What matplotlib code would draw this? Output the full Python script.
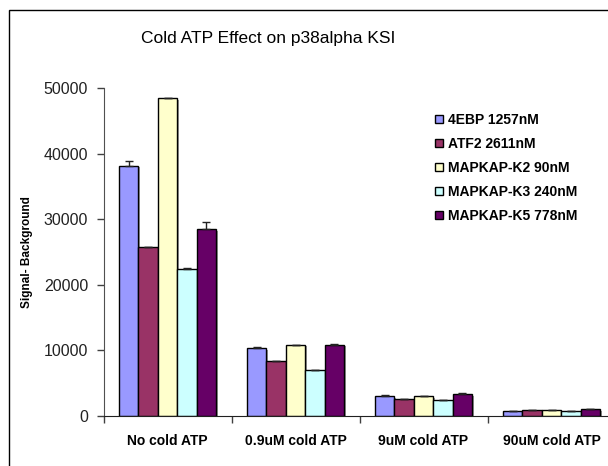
import numpy as np
import matplotlib
matplotlib.use("Agg")
from matplotlib import pyplot as plt
from matplotlib import patheffects as pe
from matplotlib.patches import Rectangle

conditions = ["No cold ATP", "0.9uM cold ATP", "9uM cold ATP", "90uM cold ATP"]
substrates = ["4EBP 1257nM", "ATF2 2611nM", "MAPKAP-K2 90nM", "MAPKAP-K3 240nM", "MAPKAP-K5 778nM"]
colors = ["#9999FF", "#993366", "#FFFFCC", "#CCFFFF", "#660066"]

signal = [[38100, 10320, 3000, 700],
          [25800, 8380, 2650, 840],
          [48450, 10870, 3000, 840],
          [22400, 6960, 2400, 700],
          [28450, 10820, 3300, 1000]]
err = [[700, 150, 250, 100],
       [0, 0, 0, 0],
       [0, 0, 0, 0],
       [100, 120, 100, 0],
       [1080, 200, 150, 0]]

plt.rcParams['font.family'] = ['Liberation Sans', 'DejaVu Sans']

fig = plt.figure(figsize=(6.08, 4.66), dpi=100)
ax = fig.add_axes([103.5 / 608, 50 / 466, 512 / 608, 328 / 466])

x = np.arange(len(conditions))
w = 0.152
shadow = [pe.SimplePatchShadow(offset=(1.5, -1), shadow_rgbFace='#808080', alpha=0.8), pe.Normal()]
for i, name in enumerate(substrates):
    pos = x + (i - 2) * w
    bars = ax.bar(pos, signal[i], w, color=colors[i], edgecolor='black', linewidth=1, label=name, zorder=2)
    for b in bars:
        b.set_path_effects(shadow)
    e = np.array(err[i])
    ax.errorbar(pos, signal[i], yerr=[np.zeros_like(e), e], fmt='none', ecolor='#222222',
                elinewidth=1, capsize=3, capthick=1, zorder=3)

ax.set_xlim(-0.5, 3.5)
ax.set_ylim(0, 50000)
ax.set_yticks(range(0, 50001, 10000))
ax.set_xticks(x)
ax.set_xticklabels(conditions, fontsize=10, fontweight='bold')
ax.set_xticks([-0.5, 0.5, 1.5, 2.5], minor=True)
ax.tick_params(axis='x', which='major', length=0, pad=13)
ax.tick_params(axis='x', which='minor', length=5, width=1, direction='out', color='#404040')
ax.tick_params(axis='y', length=5, width=1, direction='out', pad=6, labelsize=11.5, color='#404040',
               labelcolor='#222222')
for s in ['top', 'right']:
    ax.spines[s].set_visible(False)
ax.spines['left'].set_color('#505050')
ax.spines['bottom'].set_color('#202020')
ax.set_ylabel("Signal- Background", fontsize=8.5, fontweight='bold', labelpad=8)

fig.text(268 / 608, 1 - 38 / 466, "Cold ATP Effect on p38alpha KSI", ha='center', va='center', fontsize=12.5)

leg = ax.legend(loc='upper left', bbox_to_anchor=(428 / 608, 1 - 106 / 466), bbox_transform=fig.transFigure,
                frameon=False, prop={'size': 10, 'weight': 'bold'}, handlelength=0.6, handleheight=0.6,
                handletextpad=0.35, labelspacing=0.72, borderpad=0)
for h in leg.legend_handles:
    h.set_path_effects([])

fig.patches.append(Rectangle((8.5 / 608, -0.1), 1.2, 1 - 9.5 / 466 + 0.1, transform=fig.transFigure,
                             fill=False, edgecolor='black', linewidth=1))

fig.savefig("out.png", dpi=100)
